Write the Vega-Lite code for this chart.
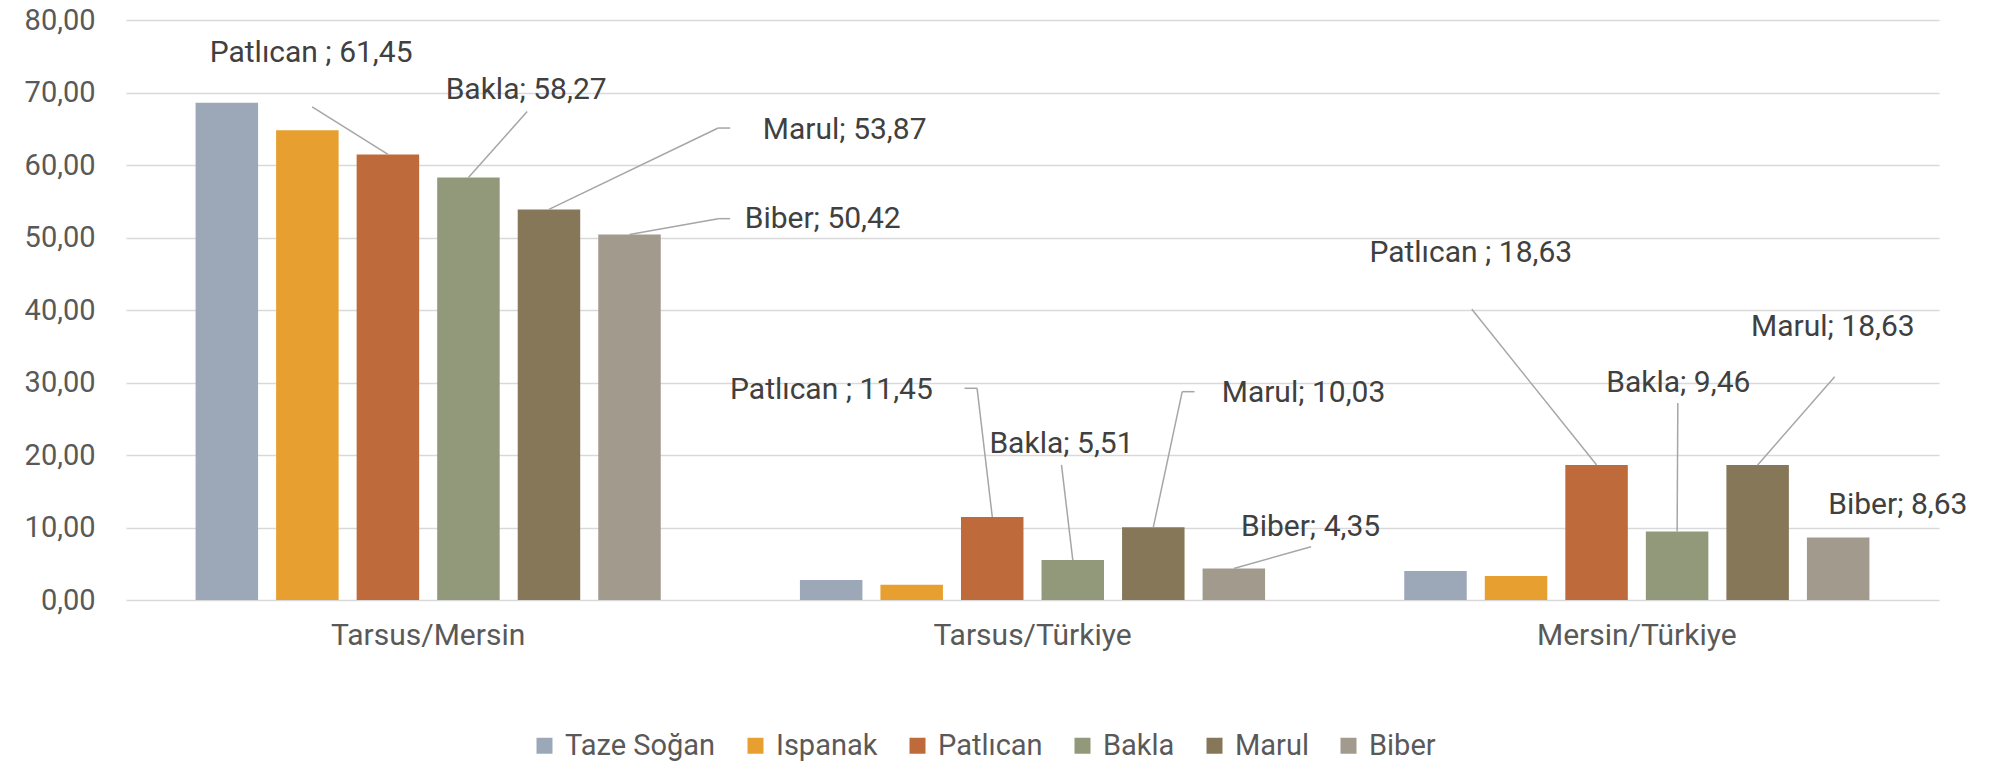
{
  "$schema": "https://vega.github.io/schema/vega-lite/v6.json",
  "width": 1813,
  "height": 580,
  "autosize": "none",
  "padding": {"left": 126, "top": 20, "right": 63, "bottom": 165},
  "background": "white",
  "config": {
    "view": {"stroke": null},
    "font": "Roboto",
    "text": {"font": "Roboto", "fontSize": 30, "color": "#404040", "align": "center", "baseline": "middle"},
    "rule": {"color": "#A6A6A6", "strokeWidth": 1.5}
  },
  "data": {
    "values": [
      {"group": "Tarsus/Mersin", "crop": "Taze Soğan", "value": 68.6},
      {"group": "Tarsus/Mersin", "crop": "Ispanak", "value": 64.8},
      {"group": "Tarsus/Mersin", "crop": "Patlıcan", "value": 61.45},
      {"group": "Tarsus/Mersin", "crop": "Bakla", "value": 58.27},
      {"group": "Tarsus/Mersin", "crop": "Marul", "value": 53.87},
      {"group": "Tarsus/Mersin", "crop": "Biber", "value": 50.42},
      {"group": "Tarsus/Türkiye", "crop": "Taze Soğan", "value": 2.76},
      {"group": "Tarsus/Türkiye", "crop": "Ispanak", "value": 2.11},
      {"group": "Tarsus/Türkiye", "crop": "Patlıcan", "value": 11.45},
      {"group": "Tarsus/Türkiye", "crop": "Bakla", "value": 5.51},
      {"group": "Tarsus/Türkiye", "crop": "Marul", "value": 10.03},
      {"group": "Tarsus/Türkiye", "crop": "Biber", "value": 4.35},
      {"group": "Mersin/Türkiye", "crop": "Taze Soğan", "value": 4.0},
      {"group": "Mersin/Türkiye", "crop": "Ispanak", "value": 3.31},
      {"group": "Mersin/Türkiye", "crop": "Patlıcan", "value": 18.63},
      {"group": "Mersin/Türkiye", "crop": "Bakla", "value": 9.46},
      {"group": "Mersin/Türkiye", "crop": "Marul", "value": 18.63},
      {"group": "Mersin/Türkiye", "crop": "Biber", "value": 8.63}
    ]
  },
  "transform": [
    {"calculate": "datum.crop + (datum.crop === 'Patlıcan' ? ' ; ' : '; ') + replace(format(datum.value, '.2f'), '.', ',')", "as": "label"},
    {"calculate": "datum.group + '|' + datum.crop", "as": "key"}
  ],
  "encoding": {
    "x": {
      "field": "group", "type": "nominal",
      "scale": {"domain": ["Tarsus/Mersin", "Tarsus/Türkiye", "Mersin/Türkiye"], "paddingInner": 0, "paddingOuter": 0},
      "axis": {"title": null, "labelAngle": 0, "domain": false, "ticks": false, "labelFontSize": 30, "labelColor": "#595959", "labelPadding": 20, "labelLimit": 0, "labelFont": "Roboto"}
    },
    "y": {
      "field": "value", "type": "quantitative",
      "scale": {"domain": [0, 80], "nice": false},
      "axis": {"title": null, "values": [0, 10, 20, 30, 40, 50, 60, 70, 80], "labelExpr": "replace(format(datum.value, '.2f'), '.', ',')", "domain": false, "ticks": false, "grid": true, "gridColor": "#D9D9D9", "gridWidth": 1.5, "labelFontSize": 29, "labelColor": "#595959", "labelPadding": 31, "labelFont": "Roboto"}
    }
  },
  "layer": [
    {
      "mark": {"type": "bar"},
      "encoding": {
        "xOffset": {
          "field": "crop", "type": "nominal",
          "scale": {"domain": ["Taze Soğan", "Ispanak", "Patlıcan", "Bakla", "Marul", "Biber"], "paddingInner": 0.224, "paddingOuter": 0.864}
        },
        "color": {
          "field": "crop", "type": "nominal",
          "scale": {"domain": ["Taze Soğan", "Ispanak", "Patlıcan", "Bakla", "Marul", "Biber"], "range": ["#9CA8B8", "#E7A02F", "#BF6A3A", "#92997A", "#867758", "#A29A8D"]},
          "legend": {"title": null, "orient": "none", "legendX": 404, "legendY": 711, "direction": "horizontal", "columns": 6, "symbolType": "square", "symbolSize": 256, "symbolStrokeWidth": 0, "labelFontSize": 29, "labelColor": "#595959", "labelFont": "Roboto", "labelOffset": 6, "columnPadding": 25, "padding": 0}
        }
      }
    },
    {
      "transform": [{"filter": "datum.key === 'Tarsus/Mersin|Patlıcan'"}],
      "layer": [
        {"mark": {"type": "text", "dx": -76.8, "dy": -101.5},
         "encoding": {"xOffset": {"field": "crop", "type": "nominal"}, "text": {"field": "label"}}},
        {"mark": {"type": "rule", "xOffset": -40.2, "x2Offset": -116, "y2Offset": -47.5},
         "encoding": {"x2": {"field": "group"}, "y2": {"field": "value"}}}
      ]
    },
    {
      "transform": [{"filter": "datum.key === 'Tarsus/Mersin|Bakla'"}],
      "layer": [
        {"mark": {"type": "text", "dx": 57.7, "dy": -87.5},
         "encoding": {"xOffset": {"field": "crop", "type": "nominal"}, "text": {"field": "label"}}},
        {"mark": {"type": "rule", "xOffset": 40.3, "x2Offset": 99, "y2Offset": -66},
         "encoding": {"x2": {"field": "group"}, "y2": {"field": "value"}}}
      ]
    },
    {
      "transform": [{"filter": "datum.key === 'Tarsus/Mersin|Marul'"}],
      "layer": [
        {"mark": {"type": "text", "dx": 295.7, "dy": -79.9},
         "encoding": {"xOffset": {"field": "crop", "type": "nominal"}, "text": {"field": "label"}}},
        {"mark": {"type": "rule", "xOffset": 120.8, "x2Offset": 290, "y2Offset": -81.4},
         "encoding": {"x2": {"field": "group"}, "y2": {"field": "value"}}},
        {"mark": {"type": "rule", "xOffset": 290, "x2Offset": 302, "yOffset": -81.4, "y2Offset": -81.4},
         "encoding": {"x2": {"field": "group"}, "y2": {"field": "value"}}}
      ]
    },
    {
      "transform": [{"filter": "datum.key === 'Tarsus/Mersin|Biber'"}],
      "layer": [
        {"mark": {"type": "text", "dx": 193.2, "dy": -15.2},
         "encoding": {"xOffset": {"field": "crop", "type": "nominal"}, "text": {"field": "label"}}},
        {"mark": {"type": "rule", "xOffset": 201.3, "x2Offset": 290, "y2Offset": -15.8},
         "encoding": {"x2": {"field": "group"}, "y2": {"field": "value"}}},
        {"mark": {"type": "rule", "xOffset": 290, "x2Offset": 302, "yOffset": -15.8, "y2Offset": -15.8},
         "encoding": {"x2": {"field": "group"}, "y2": {"field": "value"}}}
      ]
    },
    {
      "transform": [{"filter": "datum.key === 'Tarsus/Türkiye|Patlıcan'"}],
      "layer": [
        {"mark": {"type": "text", "dx": -160.8, "dy": -127},
         "encoding": {"xOffset": {"field": "crop", "type": "nominal"}, "text": {"field": "label"}}},
        {"mark": {"type": "rule", "xOffset": -40.2, "x2Offset": -55.4, "y2Offset": -128.7},
         "encoding": {"x2": {"field": "group"}, "y2": {"field": "value"}}},
        {"mark": {"type": "rule", "xOffset": -55.4, "x2Offset": -68, "yOffset": -128.7, "y2Offset": -128.7},
         "encoding": {"x2": {"field": "group"}, "y2": {"field": "value"}}}
      ]
    },
    {
      "transform": [{"filter": "datum.key === 'Tarsus/Türkiye|Bakla'"}],
      "layer": [
        {"mark": {"type": "text", "dx": -11.3, "dy": -116.1},
         "encoding": {"xOffset": {"field": "crop", "type": "nominal"}, "text": {"field": "label"}}},
        {"mark": {"type": "rule", "xOffset": 40.3, "x2Offset": 29, "y2Offset": -95.1},
         "encoding": {"x2": {"field": "group"}, "y2": {"field": "value"}}}
      ]
    },
    {
      "transform": [{"filter": "datum.key === 'Tarsus/Türkiye|Marul'"}],
      "layer": [
        {"mark": {"type": "text", "dx": 150.2, "dy": -134.6},
         "encoding": {"xOffset": {"field": "crop", "type": "nominal"}, "text": {"field": "label"}}},
        {"mark": {"type": "rule", "xOffset": 120.8, "x2Offset": 149.7, "y2Offset": -135.6},
         "encoding": {"x2": {"field": "group"}, "y2": {"field": "value"}}},
        {"mark": {"type": "rule", "xOffset": 149.7, "x2Offset": 162, "yOffset": -135.6, "y2Offset": -135.6},
         "encoding": {"x2": {"field": "group"}, "y2": {"field": "value"}}}
      ]
    },
    {
      "transform": [{"filter": "datum.key === 'Tarsus/Türkiye|Biber'"}],
      "layer": [
        {"mark": {"type": "text", "dx": 76.7, "dy": -41.8},
         "encoding": {"xOffset": {"field": "crop", "type": "nominal"}, "text": {"field": "label"}}},
        {"mark": {"type": "rule", "xOffset": 201.3, "x2Offset": 278.5, "y2Offset": -21.8},
         "encoding": {"x2": {"field": "group"}, "y2": {"field": "value"}}}
      ]
    },
    {
      "transform": [{"filter": "datum.key === 'Mersin/Türkiye|Patlıcan'"}],
      "layer": [
        {"mark": {"type": "text", "dx": -125.8, "dy": -211.9},
         "encoding": {"xOffset": {"field": "crop", "type": "nominal"}, "text": {"field": "label"}}},
        {"mark": {"type": "rule", "xOffset": -40.2, "x2Offset": -165, "y2Offset": -155.6},
         "encoding": {"x2": {"field": "group"}, "y2": {"field": "value"}}}
      ]
    },
    {
      "transform": [{"filter": "datum.key === 'Mersin/Türkiye|Bakla'"}],
      "layer": [
        {"mark": {"type": "text", "dx": 1.2, "dy": -148.4},
         "encoding": {"xOffset": {"field": "crop", "type": "nominal"}, "text": {"field": "label"}}},
        {"mark": {"type": "rule", "xOffset": 40.3, "x2Offset": 41, "y2Offset": -128.4},
         "encoding": {"x2": {"field": "group"}, "y2": {"field": "value"}}}
      ]
    },
    {
      "transform": [{"filter": "datum.key === 'Mersin/Türkiye|Marul'"}],
      "layer": [
        {"mark": {"type": "text", "dx": 75.2, "dy": -138.2},
         "encoding": {"xOffset": {"field": "crop", "type": "nominal"}, "text": {"field": "label"}}},
        {"mark": {"type": "rule", "xOffset": 120.8, "x2Offset": 197.9, "y2Offset": -88.2},
         "encoding": {"x2": {"field": "group"}, "y2": {"field": "value"}}}
      ]
    },
    {
      "transform": [{"filter": "datum.key === 'Mersin/Türkiye|Biber'"}],
      "mark": {"type": "text", "dx": 59.7, "dy": -32.4},
      "encoding": {"xOffset": {"field": "crop", "type": "nominal"}, "text": {"field": "label"}}
    }
  ]
}
